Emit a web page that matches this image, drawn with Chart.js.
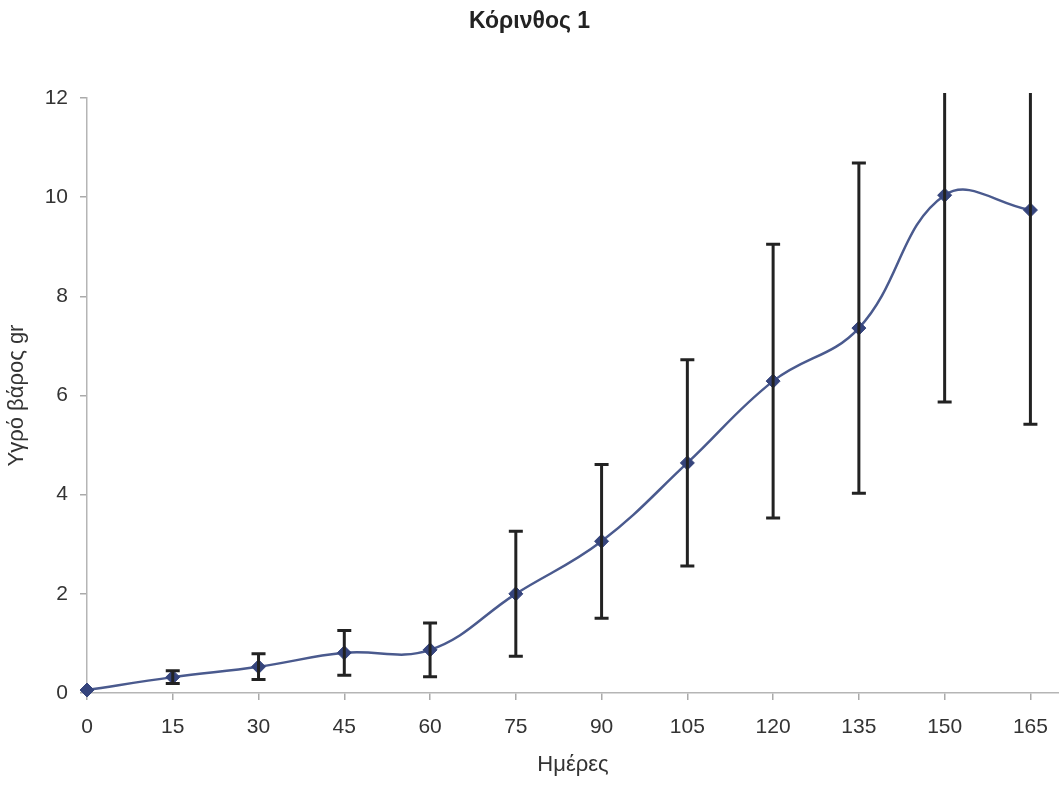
<!DOCTYPE html>
<html>
<head>
<meta charset="utf-8">
<script src="https://cdn.jsdelivr.net/npm/chart.js@4"></script>
<style>
    html, body { margin: 0; padding: 0; background: #fff; }
    #wrap { width: 1059px; height: 785px; position: relative; }
</style>
</head>
<body>
<div id="wrap"><canvas id="weightChart"></canvas></div>
<script>
// Days since start, mean wet weight (gr) and the +/- spread for each sample
const days = [0, 15, 30, 45, 60, 75, 90, 105, 120, 135, 150, 165];
const weight = [0.06, 0.32, 0.53, 0.81, 0.87, 2.0, 3.06, 4.64, 6.29, 7.36, 10.04, 9.74];
const spread = [0, 0.13, 0.26, 0.45, 0.54, 1.26, 1.55, 2.08, 2.76, 3.33, 4.17, 4.32];
const xTicks = [0, 15, 30, 45, 60, 75, 90, 105, 120, 135, 150, 165];
const yTicks = [0, 2, 4, 6, 8, 10, 12];

const FONT = "'Liberation Sans', Arial, sans-serif";

// Vertical error bars with caps, drawn on top of the line
const errorBars = {
    id: 'errorBars',
    afterDatasetsDraw(chart) {
        const { ctx, chartArea, scales } = chart;
        ctx.save();
        ctx.beginPath();
        ctx.rect(chartArea.left - 10, chartArea.top - 5, chartArea.right - chartArea.left + 20, chartArea.bottom - chartArea.top + 10);
        ctx.clip();
        ctx.strokeStyle = '#222';
        ctx.lineWidth = 3;
        days.forEach((d, i) => {
            if (!spread[i]) return;
            const x = scales.x.getPixelForValue(d);
            const yTop = scales.y.getPixelForValue(weight[i] + spread[i]);
            const yBot = scales.y.getPixelForValue(weight[i] - spread[i]);
            ctx.beginPath();
            ctx.moveTo(x, yTop);
            ctx.lineTo(x, yBot);
            ctx.moveTo(x - 7, yTop);
            ctx.lineTo(x + 7, yTop);
            ctx.moveTo(x - 7, yBot);
            ctx.lineTo(x + 7, yBot);
            ctx.stroke();
        });
        ctx.restore();
    }
};

const ctx = document.getElementById('weightChart').getContext('2d');
new Chart(ctx, {
    type: 'line',
    data: {
        datasets: [{
            data: days.map((d, i) => ({ x: d, y: weight[i] })),
            borderColor: '#4a5a8e',
            borderWidth: 2.5,
            tension: 0.4,
            pointStyle: 'rectRot',
            pointRadius: 7,
            pointBackgroundColor: '#35447c',
            pointBorderColor: '#35447c',
            pointBorderWidth: 1,
            clip: false
        }]
    },
    options: {
        responsive: true,
        maintainAspectRatio: false,
        animation: false,
        layout: { autoPadding: false, padding: { left: 0, right: 0, top: 0, bottom: 0 } },
        plugins: {
            legend: { display: false },
            tooltip: { enabled: false },
            title: {
                display: true,
                text: 'Κόρινθος 1',
                color: '#222',
                font: { family: FONT, size: 23, weight: 'bold' },
                padding: { top: 8, bottom: 62.4 }
            }
        },
        scales: {
            x: {
                type: 'linear',
                min: 0,
                max: 170,
                afterBuildTicks: axis => { axis.ticks = xTicks.map(v => ({ value: v })); },
                afterFit: axis => {
                    axis.height = 92;
                    // let the axis line run to the right edge
                    axis.paddingLeft = 0;
                    axis.paddingRight = 0;
                },
                grid: { drawOnChartArea: false, drawTicks: true, tickLength: 7, color: '#aaa', lineWidth: 1.5 },
                border: { color: '#b5b5b5', width: 1.5 },
                ticks: { color: '#333', padding: 15, maxRotation: 0, font: { family: FONT, size: 21 } },
                title: {
                    display: true,
                    text: 'Ημέρες',
                    color: '#333',
                    font: { family: FONT, size: 22 },
                    padding: { top: 4, bottom: 7 }
                }
            },
            y: {
                min: 0,
                max: 12,
                afterBuildTicks: axis => { axis.ticks = yTicks.map(v => ({ value: v })); },
                afterFit: axis => { axis.width = 87; },
                grid: { drawOnChartArea: false, drawTicks: true, tickLength: 7, color: '#aaa', lineWidth: 1.5 },
                border: { color: '#b5b5b5', width: 1.5 },
                ticks: { color: '#333', padding: 12, font: { family: FONT, size: 21 } },
                title: {
                    display: true,
                    text: 'Υγρό βάρος gr',
                    color: '#333',
                    font: { family: FONT, size: 22 },
                    padding: { top: 4, bottom: 4 }
                }
            }
        }
    },
    plugins: [errorBars]
});
</script>
</body>
</html>
